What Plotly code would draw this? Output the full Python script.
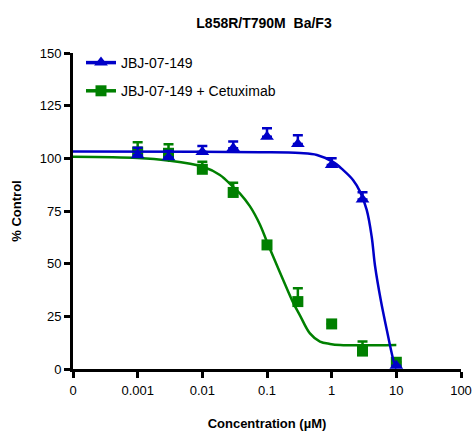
import plotly.graph_objects as go

# Measured points (concentration in µM)
conc = [0.001, 0.003, 0.01, 0.03, 0.1, 0.3, 1, 3, 10]
jbj_mean = [101.5, 100.5, 103.0, 104.8, 110.3, 106.8, 96.8, 80.5, 1.5]
jbj_err = [3.5, 3.0, 2.8, 3.2, 4.0, 4.1, 3.2, 3.4, 0.0]
cet_mean = [103.0, 102.4, 94.8, 83.8, 58.9, 32.0, 21.4, 8.5, 3.2]
cet_err = [4.6, 4.3, 3.6, 4.6, 1.0, 6.3, 0.0, 4.5, 0.0]

# Fitted curves
jbj_fit_x = [0.0001, 0.00914, 0.0776, 0.323, 0.592, 1.047, 1.496, 2.138, 2.743,
             3.483, 4.16, 4.68, 5.80, 7.18, 8.27, 9.22, 10]
jbj_fit_y = [103.2, 103.1, 102.9, 102.5, 101.6, 98.3, 94.5, 89.7, 84.2,
             75.5, 62.8, 49.0, 32.0, 18.0, 9.0, 3.0, 0.3]
cet_fit_x = [0.0001, 0.001, 0.0029, 0.0102, 0.0187, 0.0297, 0.038, 0.0543, 0.0776,
             0.0986, 0.125, 0.178, 0.255, 0.323, 0.461, 0.659, 0.942, 1.35, 10]
cet_fit_y = [100.8, 100.2, 99.0, 96.0, 92.1, 86.5, 83.4, 77.3, 68.6,
             60.8, 53.3, 42.3, 31.4, 25.5, 16.9, 13.0, 11.9, 11.4, 11.4]

tick_vals = [0.0001, 0.001, 0.01, 0.1, 1, 10, 100]
tick_text = ["0", "0.001", "0.01", "0.1", "1", "10", "100"]

names = ["JBJ-07-149", "JBJ-07-149 + Cetuximab"]
BLUE = "#0000C8"
GREEN = "#008000"
FONT = "Liberation Sans, Arial, sans-serif"

fig = go.Figure()

# green series (drawn first, underneath)
fig.add_trace(go.Scatter(x=cet_fit_x, y=cet_fit_y, mode="lines",
                         line=dict(color=GREEN, width=2.5, shape="spline"),
                         showlegend=False, hoverinfo="skip", cliponaxis=False))
fig.add_trace(go.Scatter(x=conc, y=cet_mean, mode="markers",
                         marker=dict(symbol="square", size=11, color=GREEN),
                         error_y=dict(type="data", symmetric=False, array=cet_err,
                                      arrayminus=[0] * len(cet_err), color=GREEN,
                                      thickness=2.5, width=5),
                         showlegend=False, cliponaxis=False))
# blue series
fig.add_trace(go.Scatter(x=jbj_fit_x, y=jbj_fit_y, mode="lines",
                         line=dict(color=BLUE, width=2.5, shape="spline"),
                         showlegend=False, hoverinfo="skip", cliponaxis=False))
fig.add_trace(go.Scatter(x=conc, y=jbj_mean, mode="markers",
                         marker=dict(symbol="triangle-up", size=12, color=BLUE),
                         error_y=dict(type="data", symmetric=False, array=jbj_err,
                                      arrayminus=[0] * len(jbj_err), color=BLUE,
                                      thickness=2.5, width=5),
                         showlegend=False, cliponaxis=False))

# legend entries (line + marker)
fig.add_trace(go.Scatter(x=[None], y=[None], mode="lines+markers", name=names[0],
                         line=dict(color=BLUE, width=3.5),
                         marker=dict(symbol="triangle-up", size=12, color=BLUE),
                         legendgroup="a", legendrank=1))
fig.add_trace(go.Scatter(x=[None], y=[None], mode="lines+markers", name=names[1],
                         line=dict(color=GREEN, width=3.5),
                         marker=dict(symbol="square", size=11, color=GREEN),
                         legendgroup="b", legendrank=2))

axis_common = dict(showline=True, linewidth=3, linecolor="black", ticks="outside",
                   ticklen=6, tickwidth=3, tickcolor="black", showgrid=False,
                   zeroline=False, automargin=False,
                   tickfont=dict(family=FONT, size=13, color="black"))

fig.update_layout(
    width=475, height=431,
    margin=dict(l=73, r=14, t=53, b=62),
    plot_bgcolor="white", paper_bgcolor="white",
    title=dict(text="L858R/T790M\u00a0\u00a0Ba/F3", x=264 / 475, xanchor="center",
               y=1 - 23 / 431, yanchor="middle", yref="container",
               font=dict(family=FONT, size=14, color="black", weight="bold")),
    xaxis=dict(type="log", range=[-4, 2], tickvals=tick_vals, ticktext=tick_text,
               ticklabelstandoff=1,
               title=dict(text="Concentration (µM)", standoff=23,
                          font=dict(family=FONT, size=13, color="black", weight="bold")),
               **axis_common),
    yaxis=dict(range=[0, 150], tickvals=[0, 25, 50, 75, 100, 125, 150],
               ticklabelstandoff=0,
               title=dict(text="% Control", standoff=16,
                          font=dict(family=FONT, size=13, color="black", weight="bold")),
               **axis_common),
    legend=dict(x=0.0206, y=1.019, xanchor="left", yanchor="top",
                bgcolor="rgba(0,0,0,0)", traceorder="grouped", tracegroupgap=7,
                font=dict(family=FONT, size=14, color="black")),
    showlegend=True,
)

fig.write_html("out.html", config={"displayModeBar": False},
               post_script="document.body.style.margin='0';document.body.style.overflow='hidden';")
